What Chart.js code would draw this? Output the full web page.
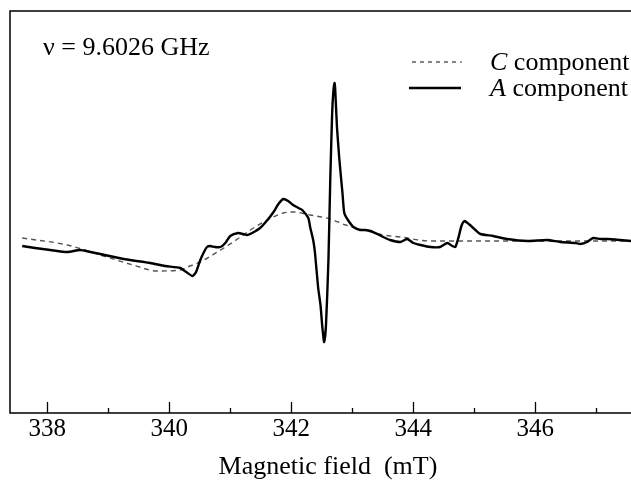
<!DOCTYPE html>
<html>
<head>
<meta charset="utf-8">
<script src="https://cdn.jsdelivr.net/npm/chart.js@4"></script>
<style>
  html, body { margin: 0; padding: 0; background: #fff; }
  #wrap { width: 631px; height: 483px; position: relative; }
</style>
</head>
<body>
<div id="wrap"><canvas id="epr"></canvas></div>
<script>
// magnetic field (mT) and signal (arb. units)
const fieldA = [337.59, 337.80, 338.05, 338.33, 338.54, 338.71, 338.87, 339.25, 339.69, 339.93,
  340.18, 340.28, 340.38, 340.44, 340.51, 340.57, 340.62, 340.67, 340.75, 340.84,
  340.92, 341.00, 341.13, 341.21, 341.28, 341.36, 341.49, 341.61, 341.71, 341.79,
  341.87, 341.95, 342.03, 342.12, 342.18, 342.28, 342.31, 342.36, 342.39, 342.44,
  342.48, 342.51, 342.54, 342.57, 342.61, 342.64, 342.67, 342.69, 342.71, 342.72,
  342.75, 342.79, 342.84, 342.87, 342.93, 343.02, 343.13, 343.21, 343.30, 343.41,
  343.51, 343.62, 343.79, 343.90, 344.00, 344.12, 344.28, 344.44, 344.56, 344.64,
  344.69, 344.74, 344.79, 344.84, 344.89, 344.93, 345.02, 345.10, 345.31, 345.54,
  345.87, 346.20, 346.41, 346.66, 346.74, 346.85, 346.95, 347.07, 347.18, 347.39, 347.57];
const signalA = [-6, -8, -10, -12, -10, -12, -14, -19, -23, -26,
  -28, -32, -36, -32, -20, -12, -7, -6, -7, -7,
  -3, 4, 7, 6, 5, 7, 12, 20, 28, 36,
  41, 39, 35, 32, 30, 22, 13, 0, -13, -47,
  -65, -87, -102, -85, -20, 60, 125, 148, 157, 152,
  113, 80, 47, 27, 20, 13, 10, 10, 9, 6,
  3, 0, -2, 1, -3, -5, -7, -7, -3, -6,
  -7, 2, 14, 19, 17, 15, 10, 6, 4, 1,
  -1, 0, -2, -3, -4, -2, 2, 1, 1, 0, -1];

const fieldC = [337.59, 338.33, 338.87, 339.41, 339.80, 340.18, 340.30, 340.51, 340.79, 341.05,
  341.33, 341.61, 341.87, 342.03, 342.31, 342.64, 342.89, 343.25, 343.51, 343.79,
  344.28, 344.77, 347.57];
const signalC = [2, -5, -15, -25, -31, -30, -27, -22, -12, -2,
  10, 20, 27, 28, 25, 21, 15, 9, 5, 3,
  -1, -1, -1];

const tickValues = [338, 339, 340, 341, 342, 343, 344, 345, 346, 347];

const serif = "'Liberation Serif', 'Times New Roman', serif";

function pairs(xs, ys) {
  return xs.map((x, i) => ({ x: x, y: ys[i] }));
}

// frame, inward ticks, labels and legend
const framePlugin = {
  id: "frame",
  afterDraw(chart) {
    const { ctx, chartArea: a, scales } = chart;
    ctx.save();
    ctx.strokeStyle = "#000";
    ctx.lineWidth = 1.5;
    ctx.beginPath();
    ctx.moveTo(a.right + 5, a.top);
    ctx.lineTo(a.left, a.top);
    ctx.lineTo(a.left, a.bottom);
    ctx.lineTo(a.right + 5, a.bottom);
    ctx.stroke();

    ctx.lineWidth = 1.3;
    tickValues.forEach(v => {
      const px = Math.round(scales.x.getPixelForValue(v)) + 0.5;
      const len = v % 2 === 0 ? 11 : 5;
      ctx.beginPath();
      ctx.moveTo(px, a.bottom);
      ctx.lineTo(px, a.bottom - len);
      ctx.stroke();
    });

    ctx.fillStyle = "#000";
    ctx.textBaseline = "middle";
    ctx.textAlign = "left";
    ctx.font = "26px " + serif;
    ctx.fillText("ν = 9.6026 GHz", 43, 48);

    // legend
    ctx.lineWidth = 1.2;
    ctx.strokeStyle = "#333";
    ctx.setLineDash([4, 4]);
    ctx.beginPath();
    ctx.moveTo(412, 62);
    ctx.lineTo(462, 62);
    ctx.stroke();
    ctx.setLineDash([]);
    ctx.lineWidth = 2.5;
    ctx.strokeStyle = "#000";
    ctx.beginPath();
    ctx.moveTo(409, 88);
    ctx.lineTo(461, 88);
    ctx.stroke();

    ctx.font = "italic 26px " + serif;
    ctx.fillText("C", 490, 63);
    ctx.fillText("A", 490, 89);
    const wC = ctx.measureText("C ").width;
    const wA = ctx.measureText("A ").width;
    ctx.font = "26px " + serif;
    ctx.fillText("component", 490 + wC, 63);
    ctx.fillText("component", 490 + wA, 89);

    ctx.textAlign = "center";
    ctx.fillText("Magnetic field  (mT)", 328, 467);
    ctx.restore();
  }
};

new Chart(document.getElementById("epr"), {
  type: "line",
  data: {
    datasets: [
      {
        label: "A component",
        data: pairs(fieldA, signalA),
        borderColor: "#000",
        borderWidth: 2.4,
        pointRadius: 0,
        tension: 0.2,
        fill: false
      },
      {
        label: "C component",
        data: pairs(fieldC, signalC),
        borderColor: "#555",
        borderWidth: 1.4,
        borderDash: [5, 4],
        pointRadius: 0,
        cubicInterpolationMode: "monotone",
        fill: false
      }
    ]
  },
  options: {
    responsive: true,
    maintainAspectRatio: false,
    animation: false,
    layout: { padding: { left: 10, top: 11, right: 0, bottom: 0 } },
    plugins: {
      legend: { display: false },
      tooltip: { enabled: false }
    },
    scales: {
      x: {
        type: "linear",
        min: 337.39,
        max: 347.57,
        afterBuildTicks: scale => {
          scale.ticks = tickValues.map(v => ({ value: v }));
        },
        afterFit: scale => { scale.height = 70; },
        grid: { display: false, drawTicks: false },
        border: { display: false },
        ticks: {
          autoSkip: false,
          maxRotation: 0,
          padding: 1,
          color: "#000",
          font: { family: serif, size: 25 },
          callback: v => (v % 2 === 0 ? String(v) : "")
        }
      },
      y: {
        display: false,
        min: -173,
        max: 229
      }
    }
  },
  plugins: [framePlugin]
});
</script>
</body>
</html>
